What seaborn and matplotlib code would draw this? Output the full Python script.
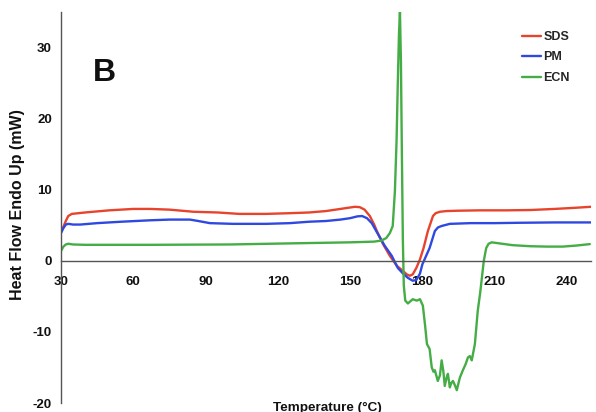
import numpy as np
import pandas as pd
import matplotlib
matplotlib.use("Agg")
import matplotlib.pyplot as plt
import seaborn as sns
from matplotlib.ticker import MultipleLocator

# ---------------- data ----------------
series_names = ["SDS", "PM", "ECN"]

sds_T = [30, 31, 32, 33, 34.5, 40, 50, 60, 67, 75, 85, 95, 104, 115, 125, 133,
         140, 146, 150, 152, 154, 156, 158.2, 160, 161.1, 163.6, 166.5, 169.4,
         171.5, 173.5, 174.8, 176, 177.5, 179, 180.5, 182.3, 184.4, 185.5, 187.3,
         190, 195, 204, 215, 225, 235, 243, 250]
sds_Y = [4.2, 4.8, 5.6, 6.3, 6.6, 6.8, 7.1, 7.3, 7.3, 7.2, 6.9, 6.8, 6.6, 6.6, 6.7, 6.8,
         7.0, 7.3, 7.5, 7.6, 7.55, 7.2, 6.3, 5.1, 4.2, 2.4, 0.7, -0.7,
         -1.3, -1.9, -2.1, -1.9, -1.0, 0.2, 1.8, 4.2, 6.3, 6.7, 6.9,
         7.0, 7.05, 7.1, 7.1, 7.15, 7.3, 7.45, 7.6]

pm_T = [30, 31, 32, 33, 35, 38, 45, 55, 61, 67, 75, 83.5, 87, 91.8, 101.4, 115, 125,
        133, 140, 146, 150, 153, 155, 157, 159, 161.5, 164.4, 167.3, 169.8, 172, 174,
        176, 177.5, 179, 180, 183, 185.2, 186.5, 188, 191.4, 200, 210, 220, 235, 250]
pm_Y = [3.9, 4.6, 5.1, 5.2, 5.1, 5.1, 5.3, 5.5, 5.6, 5.7, 5.8, 5.8, 5.6, 5.3, 5.2, 5.2, 5.3,
        5.5, 5.6, 5.8, 6.0, 6.25, 6.3, 6.0, 5.3, 3.8, 2.1, 0.7, -1.0, -1.8, -2.4,
        -2.8, -2.7, -1.8, -0.5, 1.8, 4.2, 4.7, 4.9, 5.2, 5.3, 5.3, 5.35, 5.4, 5.4]

ecn_T = [30, 31, 32, 33, 35, 40, 67, 100, 133, 150, 160, 163, 165, 166.5, 167.7,
         168.6, 169.3, 169.8, 170.3, 170.7, 171.1, 171.5, 171.9, 172.3, 172.9,
         174, 176, 177.7, 179, 180.2, 181.1, 181.9, 183, 183.9, 184.6, 185.2, 186.4,
         187.3, 188, 188.7, 189.3, 190, 190.6, 191.4, 192, 192.7, 193.5, 194.3, 195,
         195.6, 196.8, 198, 198.9, 199.7, 200.5, 201.8, 203, 204, 204.7, 205.5, 206.5,
         207.5, 208.8, 212, 217.5, 225, 231.7, 238.3, 244, 249.5]
ecn_Y = [1.4, 2.0, 2.3, 2.4, 2.3, 2.25, 2.25, 2.3, 2.5, 2.6, 2.7, 2.85, 3.2, 3.9, 4.9,
         9.8, 17.0, 25.0, 32.0, 35.0, 28.0, 15.0, 3.0, -3.5, -5.6,
         -6.0, -5.4, -5.6, -5.4, -6.3, -9.0, -11.7, -12.4, -15.0, -15.6, -15.4, -16.9,
         -16.1, -14.0, -15.5, -17.6, -16.5, -15.9, -17.8, -17.2, -16.9, -17.5, -18.2, -17.2,
         -16.4, -15.4, -14.5, -13.6, -13.4, -14.0, -11.7, -7.0, -4.5, -2.4, 0.0, 1.8,
         2.4, 2.6, 2.45, 2.2, 2.05, 2.0, 2.0, 2.15, 2.35]

x_ticks = [30, 60, 90, 120, 150, 180, 210, 240]
y_ticks = [-20, -10, 0, 10, 20, 30]
colors = ["#E8432D", "#2F48E0", "#45AD45"]

# ---------------- build long-form table ----------------
frames = []
for name, T, Y in zip(series_names, [sds_T, pm_T, ecn_T], [sds_Y, pm_Y, ecn_Y]):
    frames.append(pd.DataFrame({"Temperature": T, "HeatFlow": Y, "Sample": name}))
df = pd.concat(frames, ignore_index=True)

# ---------------- plot ----------------
sns.set_style("white")
plt.rcParams["font.family"] = ["Liberation Sans", "DejaVu Sans"]
plt.rcParams["axes.unicode_minus"] = False

fig = plt.figure(figsize=(5.96, 4.12), dpi=100)
ax = fig.add_axes([61 / 596, 1 - 403 / 412, 530 / 596, 391 / 412])

sns.lineplot(data=df, x="Temperature", y="HeatFlow", hue="Sample",
             hue_order=series_names, palette=colors, estimator=None,
             sort=False, linewidth=1.7, ax=ax, legend=True)

ax.set_xlim(30, 250)
ax.set_ylim(-20, 35)

ax.spines["top"].set_visible(False)
ax.spines["right"].set_visible(False)
ax.spines["bottom"].set_position(("data", 0))
for s in ["left", "bottom"]:
    ax.spines[s].set_color("#555555")
    ax.spines[s].set_linewidth(1.0)

ax.set_xticks(x_ticks)
ax.set_xticklabels([str(t) for t in x_ticks])
ax.xaxis.set_minor_locator(MultipleLocator(15))
ax.set_yticks(y_ticks)
ax.set_yticklabels([str(t) for t in y_ticks])
ax.yaxis.set_minor_locator(MultipleLocator(5))

ax.tick_params(axis="x", which="both", direction="in", length=4, width=1,
               color="#555555", pad=11, labelsize=9.5, labelcolor="#111111")
ax.tick_params(axis="y", which="major", direction="out", length=4.5, width=1,
               color="#555555", pad=2, labelsize=9.5, labelcolor="#111111")
ax.tick_params(axis="y", which="minor", direction="out", length=3, width=1,
               color="#555555")
ax.tick_params(axis="x", which="minor", labelbottom=False)
for lab in ax.get_xticklabels() + ax.get_yticklabels():
    lab.set_fontweight("bold")

ax.set_xlabel("")
ax.set_ylabel("")
fig.text(18 / 596, 1 - 205 / 412, "Heat Flow Endo Up (mW)", rotation=90,
         ha="center", va="center", fontsize=11.5, fontweight="bold", color="#111111")
fig.text(327 / 596, 1.5 / 412, "Temperature (°C)", ha="center", va="baseline",
         fontsize=9.7, fontweight="bold", color="#111111")

fig.text(93 / 596, 1 - 81 / 412, "B", fontsize=23, fontweight="bold",
         ha="left", va="baseline", color="#111111")

leg = ax.legend(loc="upper left", bbox_to_anchor=(522 / 596, 1 - 31 / 412),
                bbox_transform=fig.transFigure, frameon=False, borderpad=0,
                borderaxespad=0, handlelength=1.55, handletextpad=0.15,
                labelspacing=0.68, prop={"weight": "bold", "size": 9})
for line in leg.get_lines():
    line.set_linewidth(1.7)

fig.savefig("out.png", dpi=100)
